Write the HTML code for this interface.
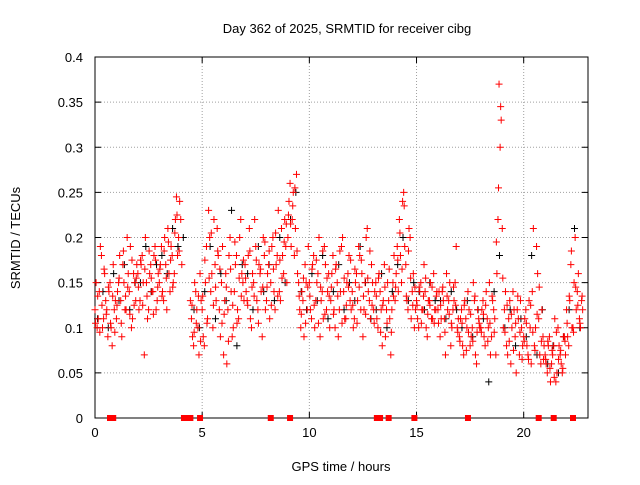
<!DOCTYPE html>
<html><head><meta charset="utf-8"><style>
body{margin:0;background:#fff}
svg text{font-family:"Liberation Sans",sans-serif;font-size:13px;fill:#000}
</style></head><body>
<svg id="chart" width="640" height="480" xmlns="http://www.w3.org/2000/svg">
<rect width="640" height="480" fill="#fff"/>
<g id="grid"></g>
<g id="axes"></g>
<g id="black"></g>
<g id="red"></g>
<g id="squares"></g>
<text x="347" y="33" text-anchor="middle">Day 362 of 2025, SRMTID for receiver cibg</text>
<text x="341" y="471" text-anchor="middle">GPS time / hours</text>
<text x="20" y="238" text-anchor="middle" transform="rotate(-90 20 238)">SRMTID / TECUs</text>
</svg>
<script>
const xTicks=[0,5,10,15,20];
const yTicks=[0,0.05,0.1,0.15,0.2,0.25,0.3,0.35,0.4];
const yTickLabels=["0","0.05","0.1","0.15","0.2","0.25","0.3","0.35","0.4"];
const redA=[
[0.12,0.10,0.14,0.18,0.11,0.13,0.09,0.15,0.08,0.12],
[0.11,0.15,0.13,0.17,0.12,0.20,0.14,0.10,0.16,0.13],
[0.16,0.13,0.18,0.07,0.15,0.12,0.17,0.14,0.19,0.13],
[0.15,0.19,0.13,0.17,0.21,0.14,0.18,0.16,0.245,0.20],
[0.22,null,null,null,null,0.11,0.08,0.14,0.10,0.16],
[0.12,0.08,0.19,0.23,0.14,0.10,0.17,0.21,0.12,0.15],
[0.07,0.16,0.12,0.20,0.09,0.14,0.18,0.11,0.22,0.15],
[0.17,0.13,0.21,0.10,0.15,0.19,0.12,0.16,0.09,0.18],
[0.13,0.17,0.15,0.20,0.12,0.18,0.14,0.21,0.16,0.19],
[0.20,0.26,0.22,0.18,0.27,0.15,0.10,0.13,0.17,0.12],
[0.15,0.11,0.18,0.13,0.16,0.09,0.14,0.19,0.12,0.16],
[0.13,0.18,0.10,0.15,0.12,0.19,0.14,0.11,0.16,0.13],
[0.14,0.11,0.16,0.19,0.12,0.09,0.15,0.21,0.13,0.17],
[0.12,0.15,0.10,0.14,0.08,0.17,0.12,0.13,0.07,0.15],
[0.13,0.19,0.22,0.15,0.25,0.17,0.12,0.20,0.14,0.10],
[0.13,0.10,0.15,0.12,0.14,0.09,0.13,0.11,0.16,0.12],
[0.12,0.09,0.14,0.11,0.16,0.13,0.08,0.12,0.15,0.10],
[0.09,0.12,0.07,0.11,0.14,0.08,0.10,0.13,0.06,0.11],
[0.10,0.13,0.08,0.11,0.15,0.09,0.12,0.07,0.22,0.30],
[0.21,0.12,0.08,0.11,0.06,0.14,0.09,0.12,0.07,0.10],
[0.09,0.12,0.07,0.10,0.14,0.08,0.19,0.11,0.06,0.09],
[0.07,0.05,0.09,0.06,0.08,0.04,0.10,0.07,0.05,0.09],
[0.12,0.08,0.17,0.10,0.20,0.14,0.11,0.13,null,null]];
const redB=[
[0.15,0.11,0.19,0.10,0.16,0.12,0.14,0.10,0.17,0.13],
[0.14,0.18,0.09,0.15,0.12,0.16,0.19,0.11,0.15,0.17],
[0.12,0.17,0.15,0.20,0.11,0.16,0.14,0.18,0.12,0.16],
[0.17,0.14,0.20,0.12,0.16,0.19,0.15,0.22,0.18,0.24],
[0.17,null,null,null,0.13,0.09,0.15,0.12,0.07,0.13],
[0.09,0.15,0.11,0.20,0.16,0.22,0.13,0.18,0.09,0.19],
[0.13,0.06,0.18,0.14,0.10,0.17,0.12,0.20,0.16,0.13],
[0.14,0.18,0.11,0.16,0.22,0.13,0.17,0.14,0.20,0.12],
[0.16,0.11,0.19,0.14,0.17,0.23,0.13,0.18,0.22,0.15],
[0.24,0.19,0.25,0.21,0.16,0.12,0.14,0.09,0.15,0.19],
[0.12,0.17,0.10,0.15,0.20,0.13,0.11,0.17,0.14,0.10],
[0.16,0.12,0.17,0.09,0.14,0.20,0.11,0.15,0.18,0.12],
[0.10,0.15,0.13,0.18,0.16,0.12,0.20,0.14,0.11,0.15],
[0.14,0.11,0.16,0.12,0.13,0.09,0.15,0.11,0.12,0.18],
[0.16,0.14,0.18,0.24,0.19,0.13,0.21,0.11,0.16,0.12],
[0.11,0.14,0.12,0.17,0.10,0.13,0.15,0.11,0.12,0.14],
[0.14,0.11,0.13,0.07,0.12,0.15,0.10,0.13,0.19,0.11],
[0.11,0.08,0.13,0.10,0.12,0.09,0.15,0.07,0.12,0.10],
[0.12,0.09,0.14,0.10,0.07,0.13,0.11,0.16,0.37,0.33],
[0.10,0.14,0.07,0.13,0.10,0.12,0.05,0.11,0.13,0.08],
[0.11,0.08,0.13,0.06,0.21,0.10,0.16,0.07,0.12,0.08],
[0.06,0.08,0.04,0.07,0.11,0.05,0.08,0.06,0.09,0.07],
[0.09,0.13,0.10,0.15,0.12,0.16,0.10,0.12,null,null]];
const redC=[
[0.105,0.135,0.095,0.125,0.165,0.115,0.145,0.105,0.135,0.095],
[0.125,0.155,0.105,0.185,0.135,0.145,0.115,0.175,0.125,0.155],
[0.145,0.175,0.125,0.165,0.135,0.185,0.155,0.115,0.175,0.145],
[0.165,0.135,0.185,0.155,0.195,0.175,0.145,0.205,0.225,0.185],
[null,null,null,null,null,0.125,0.095,0.105,0.135,0.085],
[0.135,0.175,0.105,0.155,0.205,0.125,0.145,0.185,0.165,0.105],
[0.115,0.145,0.085,0.165,0.125,0.195,0.105,0.155,0.135,0.175],
[0.155,0.125,0.185,0.145,0.135,0.175,0.105,0.165,0.145,0.195],
[0.145,0.185,0.125,0.165,0.205,0.135,0.175,0.155,0.195,0.215],
[0.225,0.215,0.235,0.255,0.185,0.135,0.115,0.155,0.105,0.145],
[0.135,0.165,0.125,0.175,0.105,0.145,0.185,0.115,0.155,0.135],
[0.145,0.115,0.165,0.135,0.185,0.105,0.155,0.125,0.145,0.175],
[0.125,0.165,0.105,0.145,0.175,0.135,0.115,0.155,0.185,0.125],
[0.105,0.135,0.155,0.095,0.125,0.145,0.105,0.165,0.095,0.135],
[0.145,0.175,0.205,0.165,0.235,0.135,0.185,0.155,0.125,0.145],
[0.125,0.145,0.105,0.135,0.155,0.115,0.125,0.145,0.105,0.135],
[0.105,0.125,0.145,0.095,0.135,0.115,0.105,0.145,0.125,0.095],
[0.085,0.105,0.125,0.075,0.095,0.115,0.085,0.135,0.095,0.105],
[0.095,0.115,0.125,0.085,0.105,0.135,0.095,0.195,0.255,0.345],
[0.155,0.095,0.125,0.085,0.115,0.075,0.105,0.135,0.095,0.065],
[0.085,0.105,0.065,0.125,0.095,0.075,0.115,0.145,0.085,0.065],
[0.065,0.085,0.055,0.075,0.045,0.095,0.065,0.075,0.055,0.085],
[0.105,0.135,0.185,0.095,0.145,0.125,0.105,0.135,null,null]];
const blackVals=[
[0.11,0.14,0.10,0.16],[0.13,0.17,0.12,0.15],[0.15,0.19,0.14,0.17],[0.18,0.16,0.21,0.19],
[0.20,null,0.12,0.10],[0.14,0.19,0.11,0.16],[0.13,0.23,0.08,0.17],[0.16,0.12,0.19,0.14],
[0.17,0.13,0.20,0.15],[0.22,0.25,0.14,0.12],[0.16,0.13,0.18,0.11],[0.14,0.17,0.12,0.15],
[0.13,0.19,0.15,0.11],[0.12,0.16,0.10,0.14],[0.17,0.20,0.13,0.15],[0.14,0.12,0.15,0.13],
[0.13,0.11,0.14,0.12],[0.10,0.13,0.09,0.12],[0.11,0.04,0.14,0.18],[0.10,0.12,0.08,0.11],
[0.09,0.18,0.07,0.12],[0.06,0.08,0.05,0.09],[0.12,0.21,0.10,null]];
const gapTimes=[0.7,0.85,4.15,4.3,4.45,4.9,8.2,9.1,13.15,13.3,13.7,14.9,17.4,20.7,21.4,22.3];

const X0=95,X1=588,Y0=418,Y1=57,XMAX=23,YMAX=0.4;
const sx=t=>X0+t/XMAX*(X1-X0);
const sy=v=>Y0-v/YMAX*(Y0-Y1);
const NS="http://www.w3.org/2000/svg";
function mk(tag,attrs,parent){const e=document.createElementNS(NS,tag);for(const k in attrs)e.setAttribute(k,attrs[k]);parent.appendChild(e);return e;}
const grid=document.getElementById('grid'),axes=document.getElementById('axes');
xTicks.forEach((t,i)=>{
  const x=sx(t);
  if(t>0){const g=mk('line',{x1:x,x2:x,y1:Y1,y2:Y0,stroke:'#a0a0a0','stroke-dasharray':'1,2'},grid);
  
  }
  mk('line',{x1:x,x2:x,y1:Y0,y2:Y0-6,stroke:'#000'},axes);
  mk('line',{x1:x,x2:x,y1:Y1,y2:Y1+6,stroke:'#000'},axes);
  const l=mk('text',{x:x,y:Y0+19,'text-anchor':'middle'},axes);l.textContent=t;
  
  
});
yTicks.forEach((v,i)=>{
  const y=sy(v);
  if(v>0&&v<YMAX){const g=mk('line',{x1:X0,x2:X1,y1:y,y2:y,stroke:'#a0a0a0','stroke-dasharray':'1,2'},grid);
  
  }
  mk('line',{x1:X0,x2:X0+6,y1:y,y2:y,stroke:'#000'},axes);
  mk('line',{x1:X1,x2:X1-6,y1:y,y2:y,stroke:'#000'},axes);
  const l=mk('text',{x:X0-12,y:y+5,'text-anchor':'end'},axes);l.textContent=yTickLabels[i];
  
  
});
const frame=mk('rect',{x:X0,y:Y1,width:X1-X0,height:Y0-Y1,fill:'none',stroke:'#000'},axes);


function plus(g,t,v,col,name){
  const x=sx(t),y=sy(v);
  const p=mk('path',{d:`M${x-3.5},${y}h7M${x},${y-3.5}v7`,stroke:col,'stroke-width':1,fill:'none'},g);
  
  
}
const bg=document.getElementById('black'),rg=document.getElementById('red'),sg=document.getElementById('squares');
blackVals.forEach((row,h)=>row.forEach((v,i)=>{if(v!==null)plus(bg,h+i/4+0.12,v,'#000','black-point');}));
redA.forEach((row,h)=>row.forEach((v,i)=>{if(v!==null)plus(rg,h+i/10,v,'#ff0000','red-point');}));
redB.forEach((row,h)=>row.forEach((v,i)=>{if(v!==null)plus(rg,h+i/10+0.05,v,'#ff0000','red-point');}));
redC.forEach((row,h)=>row.forEach((v,i)=>{if(v!==null)plus(rg,h+i/10+0.025,v,'#ff0000','red-point');}));
gapTimes.forEach(t=>{
  const r=mk('rect',{x:sx(t)-3,y:Y0-3,width:6,height:6,fill:'#ff0000'},sg);
  
  
});
</script>
</body></html>
